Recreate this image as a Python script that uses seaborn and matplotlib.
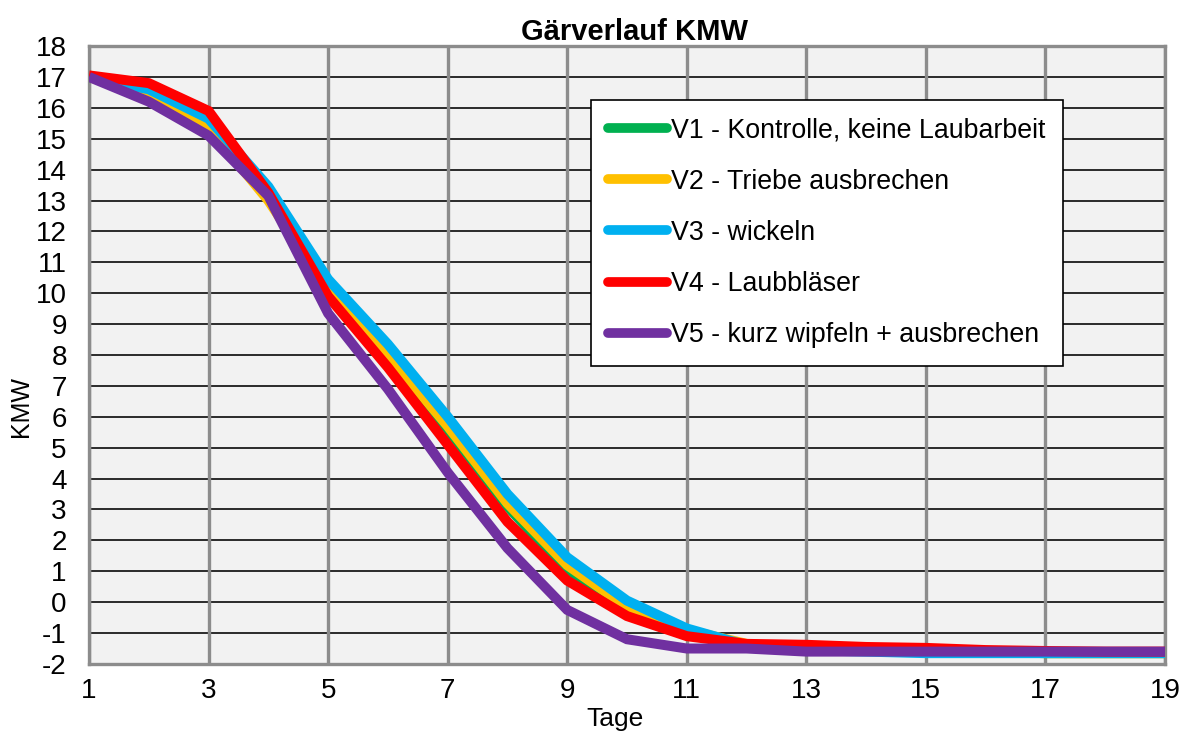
import numpy as np
import pandas as pd
import matplotlib
matplotlib.use("Agg")
import matplotlib.pyplot as plt
import seaborn as sns

days = list(range(1, 20))
series_names = [
    "V1 - Kontrolle, keine Laubarbeit",
    "V2 - Triebe ausbrechen",
    "V3 - wickeln",
    "V4 - Laubbläser",
    "V5 - kurz wipfeln + ausbrechen",
]
v1 = [17.0, 16.5, 15.4, 13.2, 10.1, 7.9, 5.6, 3.1, 1.0, -0.25, -0.95, -1.4, -1.5, -1.55, -1.6, -1.6, -1.65, -1.65, -1.65]
v2 = [17.0, 16.45, 15.35, 13.0, 10.1, 8.0, 5.7, 3.2, 1.2, -0.15, -0.9, -1.35, -1.5, -1.55, -1.6, -1.6, -1.65, -1.65, -1.65]
v3 = [17.0, 16.6, 15.65, 13.45, 10.45, 8.35, 6.0, 3.5, 1.45, 0.05, -0.85, -1.4, -1.55, -1.6, -1.65, -1.65, -1.65, -1.65, -1.65]
v4 = [17.05, 16.8, 15.9, 13.25, 9.9, 7.6, 5.1, 2.6, 0.7, -0.45, -1.1, -1.35, -1.38, -1.45, -1.48, -1.55, -1.58, -1.6, -1.6]
v5 = [17.0, 16.2, 15.1, 13.15, 9.35, 6.9, 4.2, 1.75, -0.25, -1.2, -1.5, -1.5, -1.6, -1.6, -1.6, -1.6, -1.6, -1.6, -1.6]
colors = ["#00B050", "#FFC000", "#00B0F0", "#FF0000", "#7030A0"]
x_ticks = [1, 3, 5, 7, 9, 11, 13, 15, 17, 19]
y_ticks = list(range(-2, 19))

df = pd.concat([
    pd.DataFrame({"Tage": days, "KMW": vals, "Variante": name})
    for name, vals in zip(series_names, [v1, v2, v3, v4, v5])
], ignore_index=True)

sns.set_theme(style="white")
plt.rcParams["font.family"] = ["Liberation Sans", "DejaVu Sans"]
plt.rcParams["axes.unicode_minus"] = False

fig = plt.figure(figsize=(11.82, 7.31), dpi=100)
ax = fig.add_axes([0.0753, 0.0917, 0.9103, 0.8453])
ax.set_facecolor("#F2F2F2")

sns.lineplot(data=df, x="Tage", y="KMW", hue="Variante", hue_order=series_names,
             palette=colors, linewidth=7.2, ax=ax, legend=True, zorder=3)
for ln in ax.get_lines():
    ln.set_solid_joinstyle("miter")
    ln.set_solid_capstyle("butt")

ax.set_xlim(1, 19)
ax.set_ylim(-2, 18)
ax.set_xticks(x_ticks)
ax.set_yticks(y_ticks)
ax.tick_params(axis="both", length=0, labelsize=20, colors="black")
ax.tick_params(axis="x", pad=10)
ax.tick_params(axis="y", pad=16)

for y in y_ticks:
    ax.axhline(y, color="#1A1A1A", linewidth=1.3, zorder=1)
for x in x_ticks:
    ax.axvline(x, color="#8C8C8C", linewidth=2.4, zorder=1.5)

for sp in ax.spines.values():
    sp.set_visible(True)
    sp.set_color("#8C8C8C")
    sp.set_linewidth(2.4)

ax.set_xlabel("Tage", fontsize=19, color="black")
ax.set_ylabel("KMW", fontsize=18, color="black")
ax.xaxis.set_label_coords(0.489, -0.069)
ax.yaxis.set_label_coords(-0.052, 0.417)
ax.set_title("Gärverlauf KMW", fontsize=21, fontweight="bold", pad=4, color="black", x=0.507)

handles, labels = ax.get_legend_handles_labels()
leg = ax.legend(handles, labels, loc="upper left", bbox_to_anchor=(0.4665, 0.9126),
                fontsize=19.3, frameon=True, fancybox=False, framealpha=1,
                edgecolor="black", facecolor="white", handlelength=2.2,
                handletextpad=0.15, labelspacing=0.94, borderpad=0.65,
                borderaxespad=0)
for t in leg.get_texts():
    t.set_color("black")
leg.get_frame().set_linewidth(1.2)
for h in leg.get_lines():
    h.set_linewidth(7)
    h.set_solid_capstyle("round")
leg.set_zorder(5)

fig.savefig("out.png", dpi=100)
